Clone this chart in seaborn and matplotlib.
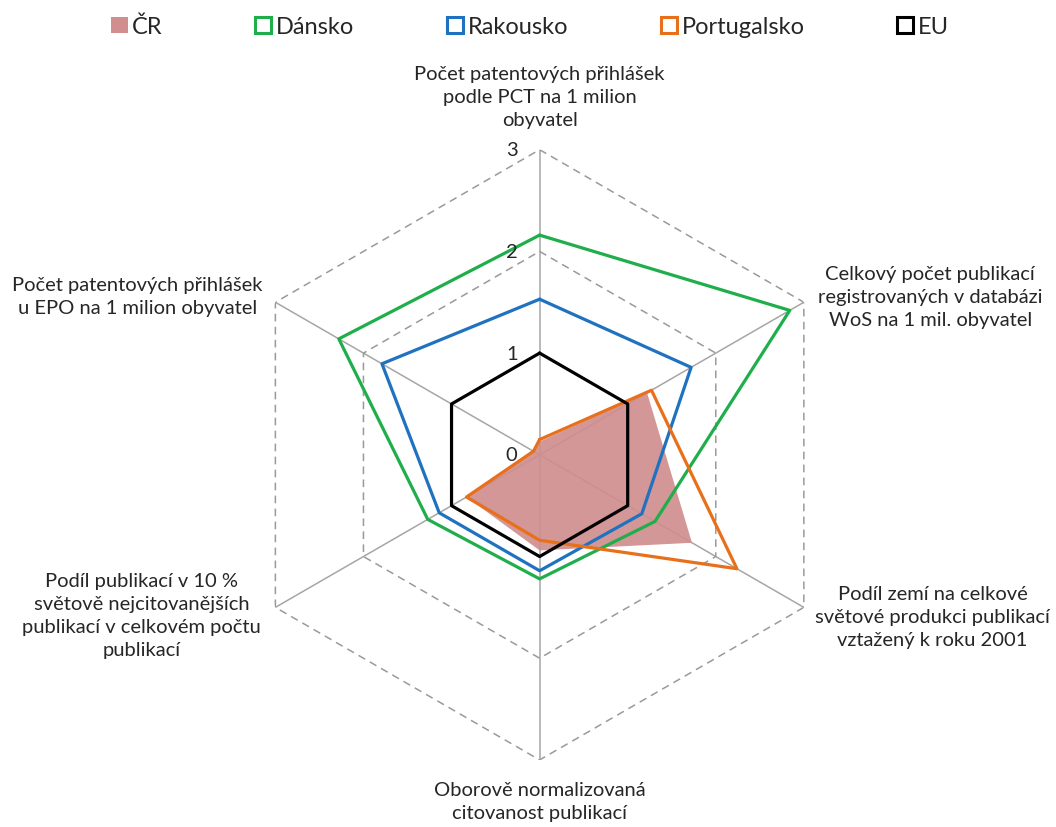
import numpy as np
import pandas as pd
import matplotlib
matplotlib.use('Agg')
import matplotlib.pyplot as plt
import matplotlib.transforms as mtransforms
from matplotlib.lines import Line2D
from matplotlib.patches import Patch
import seaborn as sns

# osy grafu (po směru hodinových ručiček od shora)
kategorie = [
    'Počet patentových přihlášek\npodle PCT na 1 milion\nobyvatel',
    'Celkový počet publikací\nregistrovaných v databázi\nWoS na 1 mil. obyvatel',
    'Podíl zemí na celkové\nsvětové produkci publikací\nvztažený k roku 2001',
    'Oborově normalizovaná\ncitovanost publikací',
    'Podíl publikací v 10 %\nsvětově nejcitovanějších\npublikací v celkovém počtu\npublikací',
    'Počet patentových přihlášek\nu EPO na 1 milion obyvatel',
]

zeme = ['ČR', 'Dánsko', 'Rakousko', 'Portugalsko', 'EU']
cr = [0.13, 1.22, 1.73, 0.94, 0.83, 0.08]
dansko = [2.16, 2.84, 1.31, 1.22, 1.27, 2.28]
rakousko = [1.53, 1.72, 1.16, 1.14, 1.14, 1.79]
portugalsko = [0.15, 1.27, 2.24, 0.84, 0.83, 0.07]
eu = [1, 1, 1, 1, 1, 1]
stupnice = [0, 1, 2, 3]

barvy = {'ČR': '#d08e8e', 'Dánsko': '#1fae4b', 'Rakousko': '#1f72c0',
         'Portugalsko': '#e8701a', 'EU': '#000000'}

n = len(kategorie)
uhly = np.linspace(0, 2 * np.pi, n, endpoint=False)
uhly_uz = np.append(uhly, uhly[0])

# dlouhá tabulka pro seaborn (uzavřené polygony)
radky = []
for nazev, hodnoty in zip(zeme, [cr, dansko, rakousko, portugalsko, eu]):
    hod = list(hodnoty) + [hodnoty[0]]
    for t, v in zip(uhly_uz, hod):
        radky.append({'zeme': nazev, 'uhel': t, 'hodnota': v})
df = pd.DataFrame(radky)

sns.set_theme(style='white')
plt.rcParams['font.family'] = ['Lato', 'DejaVu Sans']

fig = plt.figure(figsize=(10.56, 8.28), dpi=100)
ax = fig.add_axes([0.222, 0.081, 0.578, 0.737], projection='polar')
ax.set_theta_offset(np.pi / 2)
ax.set_theta_direction(-1)
ax.set_ylim(0, 3)
ax.grid(False)
ax.spines['polar'].set_visible(False)
ax.set_xticks([])
ax.set_yticks([])
ax.patch.set_alpha(0)

# mřížka - paprsky a šestiúhelníky
for t in uhly:
    ax.plot([t, t], [0, 3], color='#a6a6a6', lw=1.1, zorder=1)
for r in stupnice[1:]:
    ax.plot(uhly_uz, [r] * (n + 1), color='#9a9a9a', lw=1.1,
            ls=(0, (5, 3.5)), zorder=1)

# ČR jako vyplněná plocha
ax.fill(uhly_uz, list(cr) + [cr[0]], color=barvy['ČR'], alpha=0.92,
        lw=0, zorder=2)

# ostatní země jako čáry
sns.lineplot(data=df[df['zeme'] != 'ČR'], x='uhel', y='hodnota', hue='zeme',
             palette=barvy, sort=False, estimator=None, lw=2.3,
             legend=False, ax=ax, zorder=3)
ax.set_xlabel('')
ax.set_ylabel('')
ax.set_ylim(0, 3)

# popisky stupnice
posun = mtransforms.offset_copy(ax.transData, fig=fig, x=-22, y=0, units='dots')
for r in stupnice:
    ax.text(0, r, str(r), transform=posun, ha='right', va='center',
            fontsize=14.5, color='#262626')

# popisky os
pozice = [(0.511, 0.882), (0.881, 0.641), (0.883, 0.254),
          (0.511, 0.031), (0.134, 0.256), (0.130, 0.641)]
for text, (x, y) in zip(kategorie, pozice):
    fig.text(x, y, text, ha='center', va='center', multialignment='center',
             fontsize=14.5, color='#262626', linespacing=1.42)

# legenda
handles = [Patch(facecolor=barvy['ČR'], edgecolor='none')]
for nazev in zeme[1:]:
    handles.append(Line2D([], [], ls='none', marker='s', markersize=11,
                          markerfacecolor='white', markeredgecolor=barvy[nazev],
                          markeredgewidth=2.2))
fig.legend(handles, zeme, loc='center', bbox_to_anchor=(0.502, 0.967), ncol=5,
           frameon=False, fontsize=17, handlelength=0.7, handleheight=0.7,
           handletextpad=0.2, columnspacing=3.9, labelcolor='#262626')

fig.savefig('out.png', dpi=100)
